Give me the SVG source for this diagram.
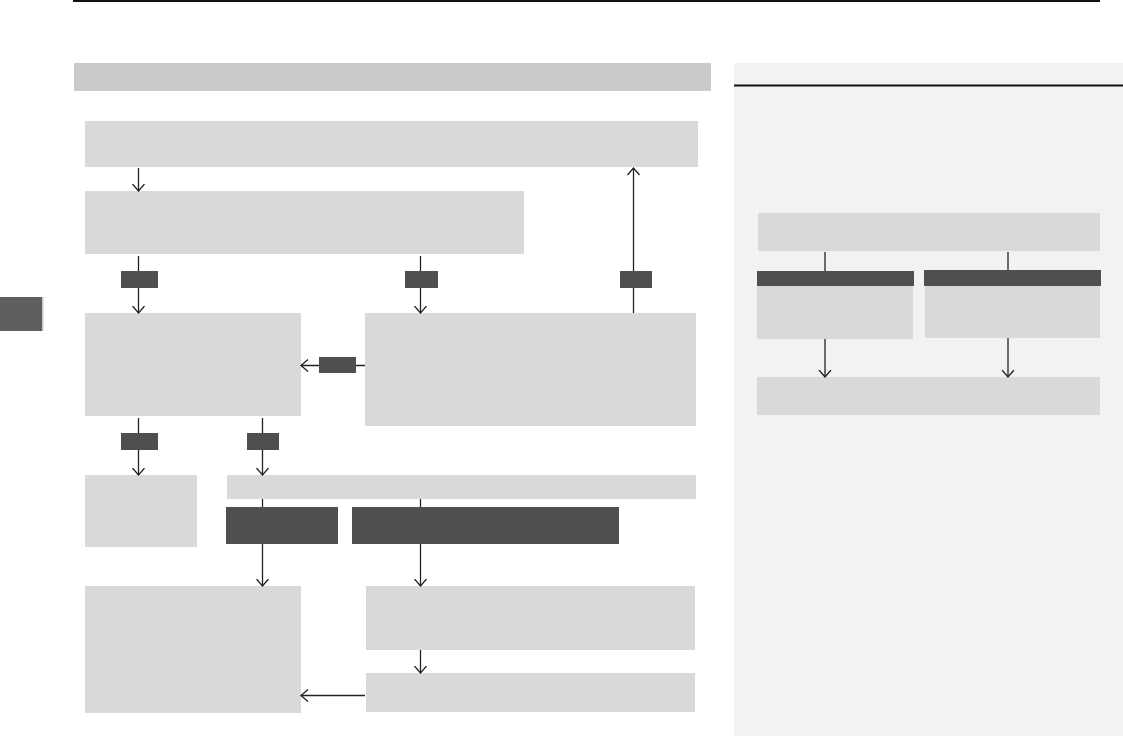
<svg xmlns="http://www.w3.org/2000/svg" width="1123" height="736" viewBox="0 0 1123 736">
<style>
.box{fill:#d9d9d9}
.dark{fill:#4f4f4f}
.hdr{fill:#cbcbcb}
.side{fill:#f2f2f2}
.ln{stroke:#222;stroke-width:1.3;fill:none}
.rule{stroke:#111;stroke-width:2;fill:none}
</style>
<defs>
<marker id="arr" markerUnits="userSpaceOnUse" markerWidth="10" markerHeight="14" refX="7.5" refY="6.5" orient="auto" viewBox="0 0 10 14">
<path d="M0.5,0.5 L7.5,6.5 L0.5,12.5" fill="none" stroke="#222" stroke-width="1.3"/>
</marker>
</defs>
<rect width="1123" height="736" fill="#ffffff"/>
<g id="page-rule"><line class="rule" x1="73" y1="1" x2="1100" y2="1"/></g>
<g id="side-tab"><rect x="0" y="297" width="42" height="34" fill="#5f5f5f"/><rect x="42" y="297" width="1.5" height="34" fill="#cccccc"/></g>
<g id="header"><rect class="hdr" x="74" y="63" width="637" height="28"/></g>
<g id="sidebar"><rect class="side" x="734" y="63" width="389" height="673"/><line class="rule" x1="734" y1="85.5" x2="1123" y2="85.5"/></g>

<g id="n1"><rect class="box" x="85" y="121" width="613" height="46"/></g>
<g id="n2"><rect class="box" x="85" y="191" width="439" height="63"/></g>
<g id="n3"><rect class="box" x="85" y="313" width="216" height="103"/></g>
<g id="n4"><rect class="box" x="365" y="313" width="331" height="113"/></g>
<g id="n5"><rect class="box" x="85" y="475" width="112" height="72"/></g>
<g id="n6"><rect class="box" x="227" y="475" width="469" height="24"/></g>
<g id="n6a"><rect class="dark" x="226" y="507" width="112" height="37"/></g>
<g id="n6b"><rect class="dark" x="352" y="507" width="267" height="37"/></g>
<g id="n7"><rect class="box" x="85" y="586" width="216" height="127"/></g>
<g id="n8"><rect class="box" x="366" y="586" width="329" height="64"/></g>
<g id="n9"><rect class="box" x="366" y="673" width="329" height="39"/></g>

<g id="s1"><rect class="box" x="758" y="213" width="342" height="38"/></g>
<g id="s2a"><rect class="dark" x="757" y="271" width="157" height="15"/><rect class="box" x="757" y="286" width="156" height="53"/></g>
<g id="s2b"><rect class="dark" x="924" y="270" width="177" height="16"/><rect class="box" x="925" y="286" width="175" height="52"/></g>
<g id="s3"><rect class="box" x="757" y="377" width="343" height="38"/></g>

<g id="connectors">
<line class="ln" x1="138.5" y1="168" x2="138.5" y2="191" marker-end="url(#arr)"/>
<line class="ln" x1="138.5" y1="256" x2="138.5" y2="313" marker-end="url(#arr)"/>
<line class="ln" x1="420.5" y1="256" x2="420.5" y2="313" marker-end="url(#arr)"/>
<line class="ln" x1="633.5" y1="313" x2="633.5" y2="168" marker-end="url(#arr)"/>
<line class="ln" x1="365" y1="365.5" x2="301" y2="365.5" marker-end="url(#arr)"/>
<line class="ln" x1="138.5" y1="418" x2="138.5" y2="475" marker-end="url(#arr)"/>
<line class="ln" x1="262.5" y1="418" x2="262.5" y2="475" marker-end="url(#arr)"/>
<line class="ln" x1="262.5" y1="499" x2="262.5" y2="507"/>
<line class="ln" x1="420.5" y1="499" x2="420.5" y2="507"/>
<line class="ln" x1="262.5" y1="544" x2="262.5" y2="586" marker-end="url(#arr)"/>
<line class="ln" x1="420.5" y1="544" x2="420.5" y2="586" marker-end="url(#arr)"/>
<line class="ln" x1="420.5" y1="650" x2="420.5" y2="673" marker-end="url(#arr)"/>
<line class="ln" x1="365" y1="695.5" x2="301" y2="695.5" marker-end="url(#arr)"/>
<line class="ln" x1="825" y1="252" x2="825" y2="271"/>
<line class="ln" x1="1008" y1="252" x2="1008" y2="270"/>
<line class="ln" x1="825" y1="339" x2="825" y2="377" marker-end="url(#arr)"/>
<line class="ln" x1="1008" y1="338" x2="1008" y2="377" marker-end="url(#arr)"/>
<rect class="dark" x="121" y="271" width="37" height="17"/>
<rect class="dark" x="405" y="271" width="33" height="17"/>
<rect class="dark" x="620" y="271" width="32" height="17"/>
<rect class="dark" x="319" y="357" width="37" height="16"/>
<rect class="dark" x="121" y="433" width="37" height="17"/>
<rect class="dark" x="247" y="433" width="32" height="17"/>
</g>
</svg>
